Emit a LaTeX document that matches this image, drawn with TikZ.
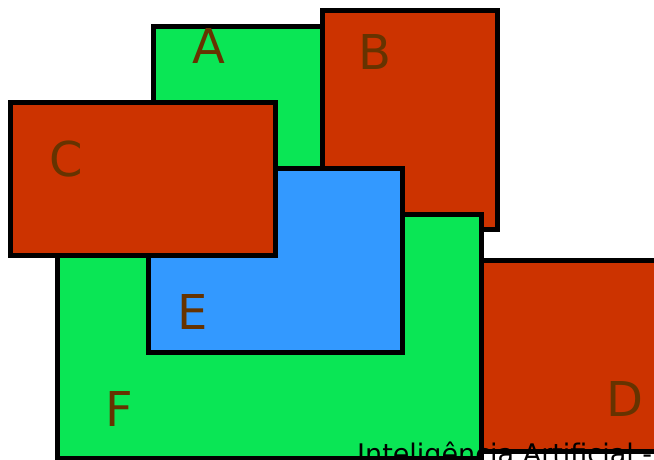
\documentclass[tikz,border=0pt]{standalone}
\usepackage{fontspec}
\setmainfont{DejaVu Sans}
\definecolor{boxgreen}{HTML}{0AE655}
\definecolor{boxred}{HTML}{CC3300}
\definecolor{boxblue}{HTML}{3399FF}
\definecolor{lettercol}{HTML}{663300}
\tikzset{
  box/.style={draw=black, line width=5pt},
  letter/.style={anchor=base, inner sep=0pt, text=lettercol, font=\fontsize{48}{50}\selectfont},
  caption/.style={anchor=base west, inner sep=0pt, text=black, font=\fontsize{27}{30}\selectfont}
}
\begin{document}
\begin{tikzpicture}[x=1pt,y=-1pt]
\useasboundingbox (0,0) rectangle (654,459);
\clip (0,0) rectangle (654,459);
% A
\filldraw[box, fill=boxgreen] (153.5,26.5) rectangle (400,200);
% B
\filldraw[box, fill=boxred] (322.5,10.5) rectangle (497.5,229);
% F
\filldraw[box, fill=boxgreen] (57.5,214) rectangle (481.5,458.5);
% E
\filldraw[box, fill=boxblue] (148,168.5) rectangle (402.5,352.5);
% C
\filldraw[box, fill=boxred] (10,102.5) rectangle (275,255.5);
% D
\filldraw[box, fill=boxred] (481.5,260.5) rectangle (720,451.5);
% letters
\node[letter] (la) at (209,63) {A};
\node[letter] (lb) at (375,69) {B};
\node[letter] (lc) at (66,176) {C};
\node[letter] (ld) at (624.5,416) {D};
\node[letter] (le) at (193,329) {E};
\node[letter] (lf) at (119,426) {F};
\node[caption] (cap) at (357,463) {Inteligência Artificial -};
\end{tikzpicture}
\end{document}
